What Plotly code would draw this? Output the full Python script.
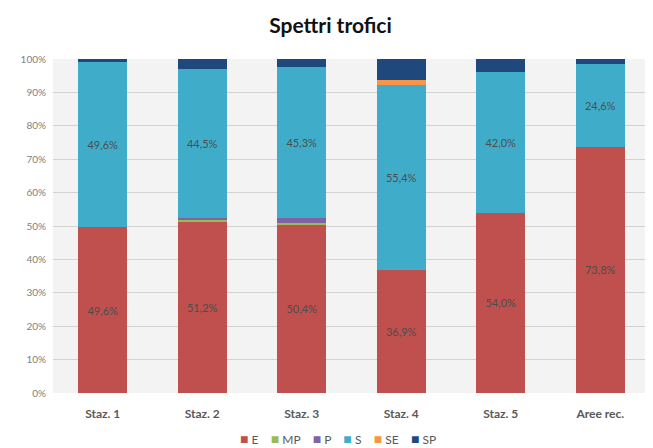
import plotly.graph_objects as go

stations = ["Staz. 1", "Staz. 2", "Staz. 3", "Staz. 4", "Staz. 5", "Aree rec."]

e_vals = [49.6, 51.2, 50.4, 36.9, 54.0, 73.8]
mp_vals = [0.0, 0.7, 0.5, 0.0, 0.0, 0.0]
p_vals = [0.0, 0.6, 1.5, 0.0, 0.0, 0.0]
s_vals = [49.6, 44.5, 45.3, 55.4, 42.0, 24.6]
se_vals = [0.0, 0.0, 0.0, 1.5, 0.0, 0.0]
sp_vals = [0.8, 3.0, 2.3, 6.2, 4.0, 1.6]

series = [
    ("E", e_vals, "#C0504D", True),
    ("MP", mp_vals, "#9BBB59", False),
    ("P", p_vals, "#8064A2", False),
    ("S", s_vals, "#3FADC9", True),
    ("SE", se_vals, "#F79646", False),
    ("SP", sp_vals, "#1F497D", False),
]


def pct(v):
    return f"{v:.1f}%".replace(".", ",")


fig = go.Figure()
for name, vals, color, labelled in series:
    fig.add_trace(
        go.Bar(
            x=stations,
            y=vals,
            name=name,
            marker=dict(color=color, line=dict(width=0)),
            text=[pct(v) for v in vals] if labelled else None,
            textposition="inside" if labelled else "none",
            insidetextanchor="middle",
            textangle=0,
            textfont=dict(color="#4D4D4D", size=11),
        )
    )

# compact legend line like the original (square swatch right before each name)
legend_text = "&nbsp;&nbsp;&nbsp;&nbsp;".join(
    f"<span style='color:{color};font-size:14px'>■</span>&nbsp;{name}"
    for name, _, color, _ in series
)
fig.add_annotation(
    text=legend_text,
    xref="paper",
    yref="paper",
    x=0.478,
    y=-0.135,
    xanchor="center",
    yanchor="middle",
    showarrow=False,
    font=dict(size=12, color="#595959"),
)

# the page body adds an 8px offset, so the figure is sized to fit the window
fig.update_layout(
    barmode="stack",
    bargap=0.51,
    width=645,
    height=440,
    title=dict(
        text="<b>Spettri trofici</b>",
        x=0.5,
        xanchor="center",
        y=0.96,
        yanchor="middle",
        font=dict(size=21, color="#111111"),
    ),
    margin=dict(l=45, r=3, t=51, b=55),
    paper_bgcolor="white",
    plot_bgcolor="#F3F3F3",
    font=dict(family="Lato, Open Sans, sans-serif", color="#595959"),
    showlegend=False,
)
fig.update_xaxes(
    showgrid=False,
    showline=False,
    ticks="",
    ticklabelstandoff=12,
    tickfont=dict(size=12, color="#595959", weight="bold"),
)
fig.update_yaxes(
    range=[0, 100],
    dtick=10,
    ticksuffix="%",
    showgrid=True,
    gridcolor="#D2D2D2",
    gridwidth=1,
    zeroline=False,
    tickfont=dict(size=10, color="#808080"),
    ticklabelstandoff=6,
)

fig.write_html("out.html")
